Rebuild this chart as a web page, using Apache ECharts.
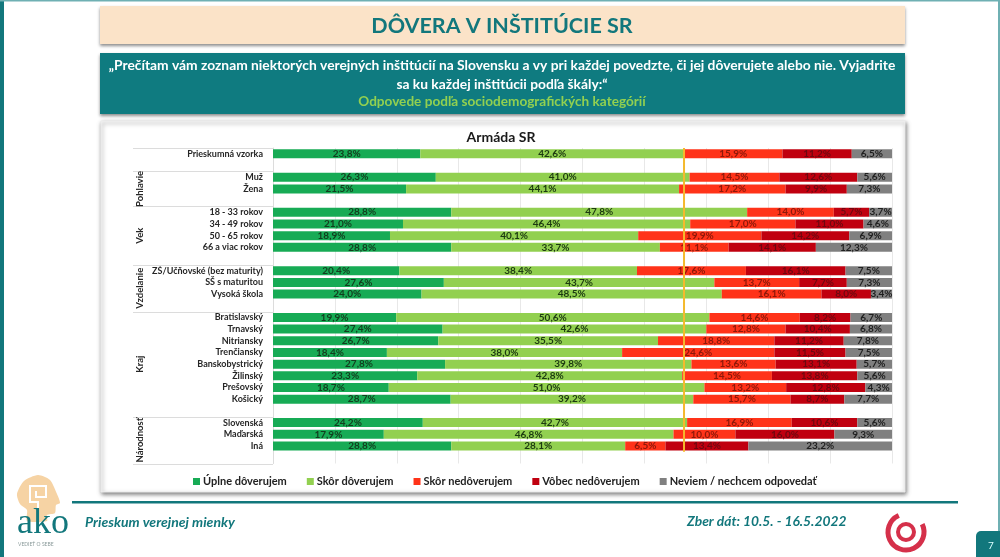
<!DOCTYPE html>
<html><head><meta charset="utf-8">
<style>html,body{margin:0;padding:0;background:#fff}#c{width:1000px;height:557px}</style>
<script src="https://cdn.jsdelivr.net/npm/echarts@6/dist/echarts.min.js"></script>
</head><body><div id="c"></div>
<script>
const categories = ['Prieskumná vzorka','','Muž','Žena','','18 - 33 rokov','34 - 49 rokov','50 - 65 rokov','66 a viac rokov','','ZŠ/Učňovské (bez maturity)','SŠ s maturitou','Vysoká škola','','Bratislavský','Trnavský','Nitriansky','Trenčiansky','Banskobystrický','Žilinský','Prešovský','Košický','','Slovenská','Maďarská','Iná',''];
const fullyTrust = [23.8,null,26.3,21.5,null,28.8,21.0,18.9,28.8,null,20.4,27.6,24.0,null,19.9,27.4,26.7,18.4,27.8,23.3,18.7,28.7,null,24.2,17.9,28.8,null];
const ratherTrust = [42.6,null,41.0,44.1,null,47.8,46.4,40.1,33.7,null,38.4,43.7,48.5,null,50.6,42.6,35.5,38.0,39.8,42.8,51.0,39.2,null,42.7,46.8,28.1,null];
const ratherDistrust = [15.9,null,14.5,17.2,null,14.0,17.0,19.9,11.1,null,17.6,13.7,16.1,null,14.6,12.8,18.8,24.6,13.6,14.5,13.2,15.7,null,16.9,10.0,6.5,null];
const fullyDistrust = [11.2,null,12.6,9.9,null,5.7,11.0,14.2,14.1,null,16.1,7.7,8.0,null,8.2,10.4,11.2,11.5,13.1,13.8,12.8,8.7,null,10.6,16.0,13.4,null];
const dontKnow = [6.5,null,5.6,7.3,null,3.7,4.6,6.9,12.3,null,7.5,7.3,3.4,null,6.7,6.8,7.8,7.5,5.7,5.6,4.3,7.7,null,5.6,9.3,23.2,null];
const seriesNames = ['Úplne dôverujem','Skôr dôverujem','Skôr nedôverujem','Vôbec nedôverujem','Neviem / nechcem odpovedať'];
const groupNames = ['Pohlavie','Vek','Vzdelanie','Kraj','Národnosť'];
const groupStarts = [2,5,10,14,23,27];
const referenceShare = 66.4;

const font = 'Lato';
const teal = '#12777C';
const barColors = ['#17AB55','#92D050','#FF3319','#C0000F','#808080'];
const labelColors = ['#123d1e','#1c3a10','#8e180a','#6e0810','#1f1f1f'];
const values = [fullyTrust,ratherTrust,ratherDistrust,fullyDistrust,dontKnow];
const G = {left:273,top:148,width:619,height:315.5};

const chart = echarts.init(document.getElementById('c'));
const series = values.map((d,i)=>({
  name:seriesNames[i],type:'bar',stack:'t',data:d,barWidth:9,z:2,
  itemStyle:{color:barColors[i]},
  label:{show:true,position:'inside',fontFamily:font,fontSize:10,fontWeight:'bold',color:labelColors[i],
    formatter:p=>p.value.toFixed(1).replace('.',',')+'%'}
}));
series.push({name:'ref',type:'line',xAxisIndex:0,yAxisIndex:1,symbol:'none',silent:true,z:10,
  lineStyle:{color:'#F4B92E',width:2},data:[[referenceShare,0],[referenceShare,26]]});

chart.setOption({
  animation:false,
  textStyle:{fontFamily:font},
  title:{text:'Armáda SR',left:501,top:130,padding:0,textAlign:'center',
    textStyle:{fontFamily:font,fontSize:14,fontWeight:'bold',color:'#1a1a1a'}},
  grid:G,
  legend:{data:seriesNames,left:188,top:471,itemWidth:7,itemHeight:7,itemGap:20,icon:'rect',
    textStyle:{fontFamily:font,fontSize:11,fontWeight:'bold',color:'#222',padding:[0,0,0,-2]}},
  xAxis:{type:'value',min:0,max:100,interval:10,axisLabel:{show:false},axisLine:{show:false},axisTick:{show:false},
    splitLine:{lineStyle:{color:'#e8e8e8',width:1}}},
  yAxis:[
   {type:'category',inverse:true,data:categories,axisTick:{show:false},
    axisLine:{lineStyle:{color:'#dcdcdc'}},
    axisLabel:{interval:0,margin:10,fontFamily:font,fontSize:9,fontWeight:'bold',color:'#262626'}},
   {type:'value',inverse:true,min:0,max:27,show:false,splitLine:{show:false}}
  ],
  series
});

const yAt = r=>chart.convertToPixel({yAxisIndex:1},r);
const gfx = [
  {type:'rect',z:-5,shape:{x:0,y:0,width:1000,height:557},style:{fill:'#fff'}},
  {type:'rect',z:-4,shape:{x:0,y:0,width:4,height:557},style:{fill:teal}},
  {type:'rect',z:-4,shape:{x:0,y:0,width:1000,height:1.5},style:{fill:'#6fb0b3'}},
  {type:'rect',z:-4,shape:{x:998,y:0,width:2,height:557},style:{fill:'#6fb0b3'}},
  {type:'rect',z:-3,shape:{x:100,y:6,width:805,height:38},style:{fill:'#FBE3C8',shadowBlur:3,shadowOffsetY:2,shadowColor:'rgba(0,0,0,.45)'}},
  {type:'text',z:1,x:502,y:26,style:{text:'DÔVERA V INŠTITÚCIE SR',fill:teal,font:'bold 21.5px '+font,textAlign:'center',textVerticalAlign:'middle'}},
  {type:'rect',z:-3,shape:{x:100,y:53,width:805,height:61},style:{fill:'#0F7B80',shadowBlur:3,shadowOffsetY:2,shadowColor:'rgba(0,0,0,.45)'}},
  {type:'text',z:1,x:502,y:66,style:{text:'„Prečítam vám zoznam niektorých verejných inštitúcií na Slovensku a vy pri každej povedzte, či jej dôverujete alebo nie. Vyjadrite',fill:'#fff',font:'bold 13.8px '+font,textAlign:'center',textVerticalAlign:'middle'}},
  {type:'text',z:1,x:502,y:85,style:{text:'sa ku každej inštitúcii podľa škály:“',fill:'#fff',font:'bold 13.8px '+font,textAlign:'center',textVerticalAlign:'middle'}},
  {type:'text',z:1,x:502,y:102,style:{text:'Odpovede podľa sociodemografických kategórií',fill:'#92D050',font:'bold 13.6px '+font,textAlign:'center',textVerticalAlign:'middle'}},
  {type:'rect',z:-3,shape:{x:101,y:121,width:804,height:371},style:{fill:'#fff',stroke:'#ececec',lineWidth:1,shadowBlur:4,shadowOffsetX:1,shadowOffsetY:2,shadowColor:'rgba(0,0,0,.5)'}},
  {type:'rect',z:1,shape:{x:72,y:501,width:886,height:2.5},style:{fill:teal}},
  {type:'text',z:1,x:85,y:522,style:{text:'Prieskum verejnej mienky',fill:teal,font:'italic bold 14px '+font,textVerticalAlign:'middle'}},
  {type:'text',z:1,x:687,y:522,style:{text:'Zber dát: 10.5. - 16.5.2022',fill:teal,font:'italic bold 13.8px '+font,textVerticalAlign:'middle'}},
  {type:'rect',z:1,shape:{x:976,y:531,width:24,height:26,r:[5,0,0,0]},style:{fill:teal}},
  {type:'text',z:2,x:991,y:546,style:{text:'7',fill:'#dff',font:'10px '+font,textAlign:'center',textVerticalAlign:'middle'}},
  // AKO logo
  {type:'polygon',z:1,shape:{smooth:0.25,points:[[17,494],[24,481],[38,475],[50,480],[57,494],[60,503],[56,505],[55,513],[47,515],[47,521],[27,521],[27,510],[20,504]]},style:{fill:'#F6D3A4'}},
  {type:'polyline',z:2,shape:{points:[[38,521],[38,502],[30,502],[30,486],[46,486],[46,497],[36,497],[36,491]]},style:{stroke:'#fff',fill:'none',lineWidth:2}},
  {type:'text',z:3,x:17,y:524,style:{text:'ako',fill:teal,font:'36px "Liberation Serif"',textVerticalAlign:'middle'}},
  {type:'text',z:3,x:18,y:544,style:{text:'VEDIEŤ O SEBE',fill:'#8a9a9a',font:'5px '+font,textVerticalAlign:'middle'}},
  // red spiral logo
  {type:'arc',z:2,shape:{cx:906,cy:532,r:18,startAngle:-0.45,endAngle:4.3},style:{stroke:'#D5304A',fill:'none',lineWidth:5}},
  {type:'arc',z:2,shape:{cx:906,cy:532,r:8,startAngle:0,endAngle:6.28},style:{stroke:'#D5304A',fill:'none',lineWidth:4}}
];
// group separators and rotated group names
[0].concat(groupStarts).forEach(r=>{
  const y=Math.round(yAt(r))+0.5;
  gfx.push({type:'line',z:1,shape:{x1:133,y1:y,x2:273,y2:y},style:{stroke:'#dcdcdc',lineWidth:1}});
});
groupNames.forEach((n,i)=>{
  const y=(yAt(groupStarts[i])+yAt(groupStarts[i+1]))/2;
  gfx.push({type:'text',z:2,x:140,y:y,rotation:Math.PI/2,style:{text:n,fill:'#262626',font:'bold 9.5px '+font,textAlign:'center',textVerticalAlign:'middle'}});
});
chart.setOption({graphic:{elements:gfx}});
</script></body></html>
